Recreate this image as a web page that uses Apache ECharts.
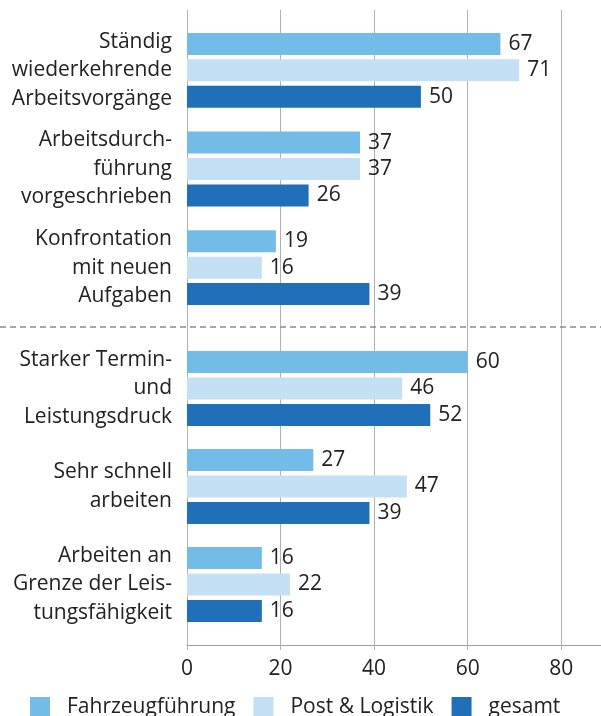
<!DOCTYPE html>
<html>
<head>
<meta charset="utf-8">
<script src="https://cdn.jsdelivr.net/npm/echarts@6/dist/echarts.min.js"></script>
<style>
  html, body { margin: 0; padding: 0; background: #fff; }
  #chart { width: 601px; height: 716px; }
</style>
</head>
<body>
<div id="chart"></div>
<script>
// Kategorien (oben / unten, getrennt durch die gestrichelte Linie)
var catsTop = ['Ständig\nwiederkehrende\nArbeitsvorgänge', 'Arbeitsdurch-\nführung\nvorgeschrieben', 'Konfrontation\nmit neuen\nAufgaben'];
var catsBottom = ['Starker Termin-\nund\nLeistungsdruck', 'Sehr schnell\narbeiten', 'Arbeiten an\nGrenze der Leis-\ntungsfähigkeit'];

var seriesNames = ['Fahrzeugführung', 'Post & Logistik', 'gesamt'];
var fahrzeugTop = [67, 37, 19];
var postTop = [71, 37, 16];
var gesamtTop = [50, 26, 39];
var fahrzeugBottom = [60, 27, 16];
var postBottom = [46, 47, 22];
var gesamtBottom = [52, 39, 16];

var xTicks = [0, 20, 40, 60, 80];

var colors = ['#74bce8', '#c4e0f5', '#1f70b8'];
var font = 'Open Sans';
var fs = 21;
var textColor = '#222';
var xMax = 88.5;

var myChart = echarts.init(document.getElementById('chart'));

function barSeries(name, data, idx, color) {
  return {
    name: name,
    type: 'bar',
    xAxisIndex: idx,
    yAxisIndex: idx,
    data: data,
    barWidth: 22,
    barGap: '20%',
    itemStyle: { color: color },
    label: {
      show: true,
      position: 'right',
      distance: 8,
      fontFamily: font,
      fontSize: fs,
      color: textColor
    },
    animation: false
  };
}

function catAxis(idx, data) {
  return {
    type: 'category',
    gridIndex: idx,
    data: data,
    inverse: true,
    axisLine: { show: false },
    axisTick: { show: false },
    axisLabel: {
      fontFamily: font,
      fontSize: fs,
      lineHeight: 28.5,
      color: textColor,
      align: 'right',
      margin: 15
    }
  };
}

function hiddenX(idx) {
  return { type: 'value', gridIndex: idx, min: 0, max: xMax, show: false };
}

var option = {
  animation: false,
  color: colors,
  textStyle: { fontFamily: font },
  legend: {
    data: seriesNames,
    left: 25,
    top: 692,
    icon: 'rect',
    itemWidth: 20,
    itemHeight: 21,
    itemGap: 18,
    textStyle: {
      fontFamily: font,
      fontSize: fs,
      color: textColor,
      padding: [0, 0, 0, 12]
    }
  },
  grid: [
    // Hintergrund mit Gitterlinien und x-Achse
    { left: 187, width: 414, top: 10, height: 635 },
    { left: 187, width: 414, top: 21, height: 296 },
    { left: 187, width: 414, top: 339.5, height: 294 }
  ],
  xAxis: [
    {
      type: 'value',
      gridIndex: 0,
      min: 0,
      max: xMax,
      interval: 20,
      axisLine: { show: true, lineStyle: { color: '#a0a0a0', width: 1 } },
      axisTick: { show: true, length: 5, lineStyle: { color: '#b0b0b0' } },
      splitLine: { show: true, lineStyle: { color: '#b0b0b0', width: 1 } },
      axisLabel: {
        fontFamily: font,
        fontSize: fs,
        color: textColor,
        margin: 14,
        showMaxLabel: false,
        formatter: function (v) { return xTicks.indexOf(v) >= 0 ? v : ''; }
      }
    },
    hiddenX(1),
    hiddenX(2)
  ],
  yAxis: [
    { type: 'value', gridIndex: 0, show: false },
    catAxis(1, catsTop),
    catAxis(2, catsBottom)
  ],
  graphic: [
    {
      type: 'line',
      shape: { x1: 0, y1: 327, x2: 601, y2: 327 },
      style: { stroke: '#8a8a8a', lineWidth: 1.5, lineDash: [6, 4] },
      z: 10
    }
  ],
  series: [
    barSeries(seriesNames[0], fahrzeugTop, 1, colors[0]),
    barSeries(seriesNames[1], postTop, 1, colors[1]),
    barSeries(seriesNames[2], gesamtTop, 1, colors[2]),
    barSeries(seriesNames[0], fahrzeugBottom, 2, colors[0]),
    barSeries(seriesNames[1], postBottom, 2, colors[1]),
    barSeries(seriesNames[2], gesamtBottom, 2, colors[2])
  ]
};

myChart.setOption(option);
</script>
</body>
</html>
